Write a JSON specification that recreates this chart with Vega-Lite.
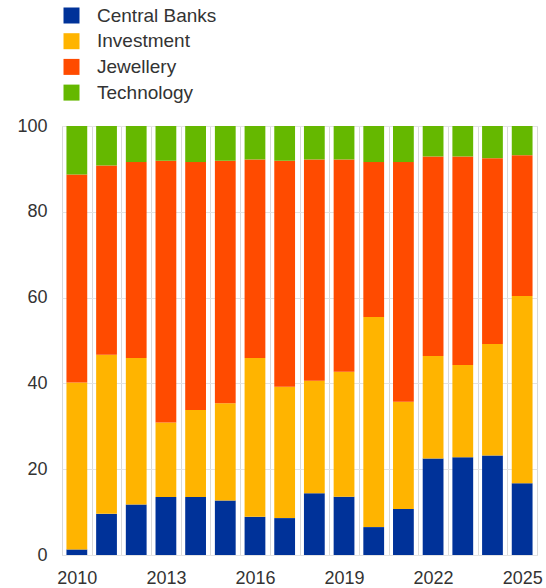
{
  "$schema": "https://vega.github.io/schema/vega-lite/v6.json",
  "width": 475,
  "height": 429,
  "autosize": {"type": "none"},
  "padding": {"left": 62, "top": 126, "right": 9, "bottom": 33},
  "background": "white",
  "config": {
    "font": "Liberation Sans",
    "view": {"stroke": "#d9d9d9", "strokeWidth": 1}
  },
  "data": {
    "values": [
      {"year": 2010, "sector": "Central Banks", "share": 1.3},
      {"year": 2010, "sector": "Investment", "share": 38.9},
      {"year": 2010, "sector": "Jewellery", "share": 48.5},
      {"year": 2010, "sector": "Technology", "share": 11.3},
      {"year": 2011, "sector": "Central Banks", "share": 9.6},
      {"year": 2011, "sector": "Investment", "share": 37.1},
      {"year": 2011, "sector": "Jewellery", "share": 44.1},
      {"year": 2011, "sector": "Technology", "share": 9.2},
      {"year": 2012, "sector": "Central Banks", "share": 11.8},
      {"year": 2012, "sector": "Investment", "share": 34.1},
      {"year": 2012, "sector": "Jewellery", "share": 45.7},
      {"year": 2012, "sector": "Technology", "share": 8.4},
      {"year": 2013, "sector": "Central Banks", "share": 13.5},
      {"year": 2013, "sector": "Investment", "share": 17.4},
      {"year": 2013, "sector": "Jewellery", "share": 61.0},
      {"year": 2013, "sector": "Technology", "share": 8.1},
      {"year": 2014, "sector": "Central Banks", "share": 13.5},
      {"year": 2014, "sector": "Investment", "share": 20.3},
      {"year": 2014, "sector": "Jewellery", "share": 57.8},
      {"year": 2014, "sector": "Technology", "share": 8.4},
      {"year": 2015, "sector": "Central Banks", "share": 12.7},
      {"year": 2015, "sector": "Investment", "share": 22.7},
      {"year": 2015, "sector": "Jewellery", "share": 56.5},
      {"year": 2015, "sector": "Technology", "share": 8.1},
      {"year": 2016, "sector": "Central Banks", "share": 8.9},
      {"year": 2016, "sector": "Investment", "share": 37.0},
      {"year": 2016, "sector": "Jewellery", "share": 46.3},
      {"year": 2016, "sector": "Technology", "share": 7.8},
      {"year": 2017, "sector": "Central Banks", "share": 8.6},
      {"year": 2017, "sector": "Investment", "share": 30.6},
      {"year": 2017, "sector": "Jewellery", "share": 52.7},
      {"year": 2017, "sector": "Technology", "share": 8.1},
      {"year": 2018, "sector": "Central Banks", "share": 14.4},
      {"year": 2018, "sector": "Investment", "share": 26.2},
      {"year": 2018, "sector": "Jewellery", "share": 51.6},
      {"year": 2018, "sector": "Technology", "share": 7.8},
      {"year": 2019, "sector": "Central Banks", "share": 13.6},
      {"year": 2019, "sector": "Investment", "share": 29.1},
      {"year": 2019, "sector": "Jewellery", "share": 49.5},
      {"year": 2019, "sector": "Technology", "share": 7.8},
      {"year": 2020, "sector": "Central Banks", "share": 6.5},
      {"year": 2020, "sector": "Investment", "share": 49.0},
      {"year": 2020, "sector": "Jewellery", "share": 36.1},
      {"year": 2020, "sector": "Technology", "share": 8.4},
      {"year": 2021, "sector": "Central Banks", "share": 10.7},
      {"year": 2021, "sector": "Investment", "share": 25.0},
      {"year": 2021, "sector": "Jewellery", "share": 55.9},
      {"year": 2021, "sector": "Technology", "share": 8.4},
      {"year": 2022, "sector": "Central Banks", "share": 22.5},
      {"year": 2022, "sector": "Investment", "share": 23.9},
      {"year": 2022, "sector": "Jewellery", "share": 46.5},
      {"year": 2022, "sector": "Technology", "share": 7.1},
      {"year": 2023, "sector": "Central Banks", "share": 22.8},
      {"year": 2023, "sector": "Investment", "share": 21.5},
      {"year": 2023, "sector": "Jewellery", "share": 48.6},
      {"year": 2023, "sector": "Technology", "share": 7.1},
      {"year": 2024, "sector": "Central Banks", "share": 23.2},
      {"year": 2024, "sector": "Investment", "share": 26.0},
      {"year": 2024, "sector": "Jewellery", "share": 43.3},
      {"year": 2024, "sector": "Technology", "share": 7.5},
      {"year": 2025, "sector": "Central Banks", "share": 16.7},
      {"year": 2025, "sector": "Investment", "share": 43.7},
      {"year": 2025, "sector": "Jewellery", "share": 32.8},
      {"year": 2025, "sector": "Technology", "share": 6.8}
    ]
  },
  "mark": {"type": "bar"},
  "encoding": {
    "x": {
      "field": "year",
      "type": "ordinal",
      "title": null,
      "scale": {"paddingInner": 0.3, "paddingOuter": 0.15},
      "axis": {
        "labelAngle": 0,
        "labelExpr": "(datum.value - 2010) % 3 == 0 ? datum.label : ''",
        "labelFontSize": 18,
        "labelColor": "#333333",
        "labelPadding": 14,
        "labelOverlap": false,
        "ticks": false,
        "domain": false,
        "grid": true,
        "gridColor": "#d9d9d9",
        "gridWidth": 1,
        "tickOffset": -14.84,
        "labelOffset": 14.84
      }
    },
    "y": {
      "field": "share",
      "type": "quantitative",
      "stack": "zero",
      "title": null,
      "scale": {"domain": [0, 100], "nice": false},
      "axis": {
        "values": [0, 20, 40, 60, 80, 100],
        "labelFontSize": 18,
        "labelColor": "#333333",
        "labelPadding": 15,
        "ticks": false,
        "domain": false,
        "grid": true,
        "gridColor": "#e3e3e3"
      }
    },
    "order": {"field": "sector", "sort": "ascending"},
    "color": {
      "field": "sector",
      "type": "nominal",
      "scale": {
        "domain": ["Central Banks", "Investment", "Jewellery", "Technology"],
        "range": ["#003299", "#FFB400", "#FF4B00", "#65B800"]
      },
      "legend": {
        "title": null,
        "orient": "none",
        "legendX": 0,
        "legendY": -120,
        "symbolType": "square",
        "symbolSize": 256,
        "symbolStrokeWidth": 0,
        "labelFontSize": 19,
        "labelColor": "#333333",
        "labelOffset": 16,
        "rowPadding": 5.7
      }
    }
  }
}
